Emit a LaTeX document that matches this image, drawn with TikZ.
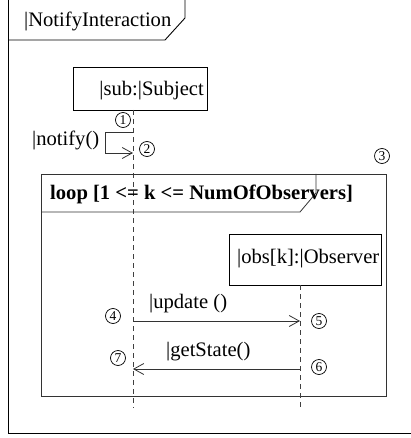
\documentclass[tikz,border=0pt]{standalone}
\usepackage{fontspec}
\setmainfont{Liberation Serif}
\usetikzlibrary{arrows.meta}
\begin{document}
\begin{tikzpicture}[x=1pt,y=-1pt,
  frameline/.style={line width=0.9pt,black},
  boxline/.style={draw,line width=0.8pt,inner sep=0pt},
  lifeline/.style={line width=0.8pt,black!75,dash pattern=on 5pt off 4pt},
  msg/.style={line width=0.8pt,black!80,-{Straight Barb[length=10pt,width=11pt,line width=0.8pt]}},
  txt/.style={font=\fontsize{20.6}{24}\selectfont,inner sep=0pt},
  num/.style={circle,draw,line width=0.7pt,inner sep=0pt,minimum size=15pt,font=\fontsize{13.5}{13.5}\selectfont}]
\useasboundingbox (0,0) rectangle (410,438);
% outer frame
\draw[frameline] (8,-5) -- (8,433) -- (415,433);
\draw[frameline] (185,-5) -- (185,18) -- (165,40) -- (8,40);
\node[txt,anchor=base west] (title) at (24,27) {|NotifyInteraction};
% subject
\node[boxline,minimum width=134pt,minimum height=43pt] (sub) at (140,88.5) {};
\node[txt,anchor=base east] (subt) at (204,96) {|sub:|Subject};
\coordinate (s0) at (133,110);
\coordinate (s1) at (133,408);
\draw[lifeline] (s0) -- (s1);
% self message
\coordinate (n0) at (133,132);
\coordinate (n1) at (133,153);
\draw[msg] (n0) -- (105,132) -- (105,153) -- (n1);
\node[txt,anchor=base west] (notify) at (32,146) {|notify()};
% loop frame
\draw[line width=0.8pt,black!80] (41,174) rectangle (386,396);
\draw[line width=0.8pt,black!80] (316,174) -- (316,193) -- (300,212) -- (41,212);
\node[txt,anchor=base west,font=\fontsize{20.6}{24}\selectfont\bfseries] (loop) at (50,199) {loop [1 <= k <= NumOfObservers]};
% observer
\node[boxline,minimum width=152pt,minimum height=51pt] (obs) at (305,259.5) {};
\node[txt,anchor=base west] (obst) at (237,263) {|obs[k]:|Observer};
\coordinate (o0) at (300,285);
\coordinate (o1) at (300,408);
\draw[lifeline] (o0) -- (o1);
% messages
\coordinate (u0) at (133,321);
\coordinate (u1) at (300,321);
\draw[msg] (u0) -- (u1);
\node[txt,anchor=base west] (upd) at (149,308) {|update ()};
\coordinate (g0) at (300,369);
\coordinate (g1) at (133,369);
\draw[msg] (g0) -- (g1);
\node[txt,anchor=base west] (gst) at (166,356) {|getState()};
% numbers
\node[num] (c1) at (123,120) {1};
\node[num] (c2) at (147,149) {2};
\node[num] (c3) at (382,156) {3};
\node[num] (c4) at (113,316) {4};
\node[num] (c5) at (319,321) {5};
\node[num] (c6) at (319,367) {6};
\node[num] (c7) at (118,358) {7};
\end{tikzpicture}
\end{document}
